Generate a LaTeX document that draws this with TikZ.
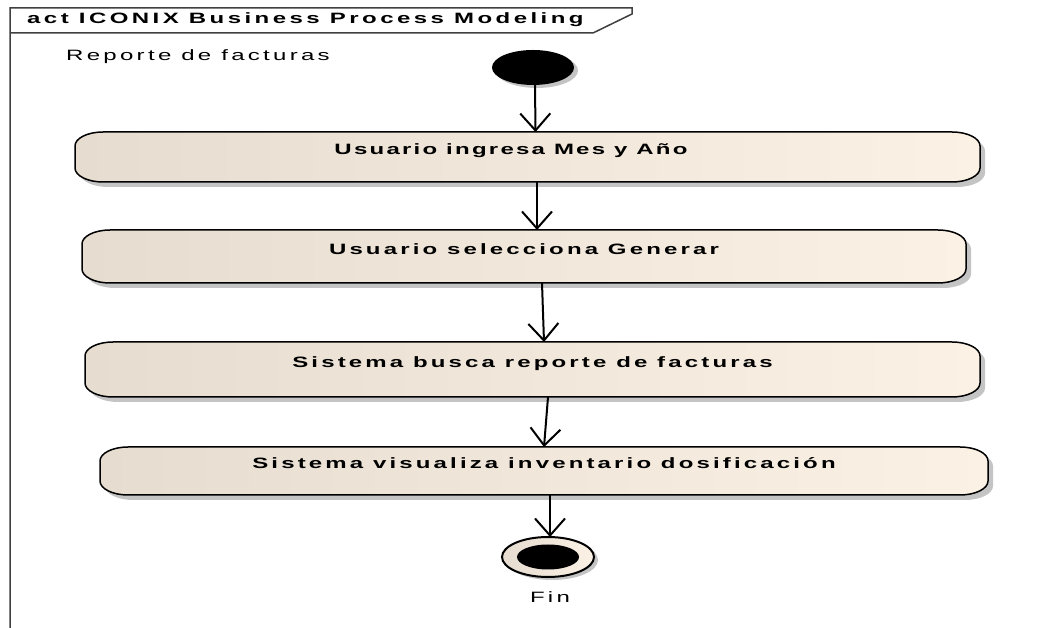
\documentclass[tikz,border=0pt]{standalone}
\usepackage{fontspec}
\setmainfont{Liberation Sans}
\newfontfamily\widefont{Liberation Sans}[FakeStretch=1.6,LetterSpace=15]
\newfontfamily\widefontb{Liberation Sans}[FakeStretch=1.6,LetterSpace=21]
\newfontfamily\widetitle{Liberation Sans}[FakeStretch=1.6,LetterSpace=23]
\newfontfamily\widereg{Liberation Sans}[FakeStretch=1.6,LetterSpace=22]
\usetikzlibrary{arrows.meta,calc,shapes.geometric,backgrounds,shadows}
\definecolor{boxl}{HTML}{E6DDD0}
\definecolor{boxr}{HTML}{FBF1E4}
\definecolor{shadowc}{HTML}{C4C4C4}
\definecolor{framec}{HTML}{404040}
\newcommand\actshape[1]{($(#1.north west)+(28,0)$) -- ($(#1.north east)+(-28,0)$) arc[start angle=90,end angle=0,x radius=28,y radius=14] -- ($(#1.south east)+(0,14)$) arc[start angle=0,end angle=-90,x radius=28,y radius=14] -- ($(#1.south west)+(28,0)$) arc[start angle=270,end angle=180,x radius=28,y radius=14] -- ($(#1.north west)+(0,-14)$) arc[start angle=180,end angle=90,x radius=28,y radius=14] -- cycle}
\tikzset{
  actbox/.style={inner sep=0pt, outer sep=0pt, font=\widefontb\bfseries\fontsize{15}{18}\selectfont, text height=10pt, text depth=14pt},
  arr/.style={line width=2pt, -{Straight Barb[length=17pt,width=30pt]}},
  plain/.style={font=\widereg\fontsize{15}{18}\selectfont, inner sep=0pt},
}
\begin{document}
\begin{tikzpicture}[x=1pt,y=1pt]
\useasboundingbox (0,0) rectangle (1048,628);
% frame
\draw[framec, line width=1.5pt] (10,0) -- (10,620) -- (632,620) -- (632,614) -- (593,595) -- (10,595);
\node[anchor=west, inner sep=0pt, font=\widetitle\bfseries\fontsize{15}{18}\selectfont] (title) at (27,608) {act ICONIX Business Process Modeling};
\node[plain, anchor=west] (rep) at (66,571) {Reporte de facturas};
% start
\node[ellipse, fill=black, minimum width=82pt, minimum height=35pt, inner sep=0pt, outer sep=0pt,
  drop shadow={shadow xshift=4pt, shadow yshift=-3pt, fill=shadowc, opacity=1}] (start) at (533,560.5) {};
% boxes
\node[actbox, minimum width=905pt, minimum height=50pt] (b1) at (527.5,471) {};
\node[inner sep=0pt, font=\widefont\bfseries\fontsize{15}{18}\selectfont] (t1) at (511,477) {Usuario ingresa Mes y Año};
\node[actbox, minimum width=884pt, minimum height=53pt] (b2) at (524,371.5) {Usuario selecciona Generar};
\node[actbox, minimum width=895pt, minimum height=55pt] (b3) at (532.5,258.5) {Sistema busca reporte de facturas};
\node[actbox, minimum width=888pt, minimum height=48pt] (b4) at (544,157) {Sistema visualiza inventario dosificación};
\begin{scope}[on background layer]
  \fill[white] (0,0) rectangle (1048,628);
  \foreach \b in {b1,b2,b3,b4}{
    \fill[shadowc, transform canvas={shift={(5pt,-5pt)}}] \actshape{\b};
    \shadedraw[left color=boxl, right color=boxr, draw=black, line width=1.5pt] \actshape{\b};
  }
\end{scope}
% end
\node[ellipse, draw=black, line width=2pt, left color=boxl, right color=boxr, minimum width=92pt, minimum height=40pt, inner sep=0pt, outer sep=0pt,
  drop shadow={shadow xshift=4pt, shadow yshift=-3pt, fill=shadowc, opacity=1}] (end) at (548,71) {};
\node[ellipse, fill=black, minimum width=62pt, minimum height=25pt, inner sep=0pt] (endin) at (end.center) {};
\node[plain] (fin) at (550,31) {Fin};
% connectors
\draw[arr] ($(start.south)+(2,0)$) -- ($(b1.north)+(8,0)$);
\draw[arr] ($(b1.south)+(9.5,0)$) -- ($(b2.north)+(13,0)$);
\draw[arr] ($(b2.south)+(18,0)$) -- ($(b3.north)+(11.5,0)$);
\draw[arr] ($(b3.south)+(15.5,0)$) -- ($(b4.north)+(0,0)$);
\draw[arr] ($(b4.south)+(6,0)$) -- ($(end.north)+(2,0)$);
\end{tikzpicture}
\end{document}
